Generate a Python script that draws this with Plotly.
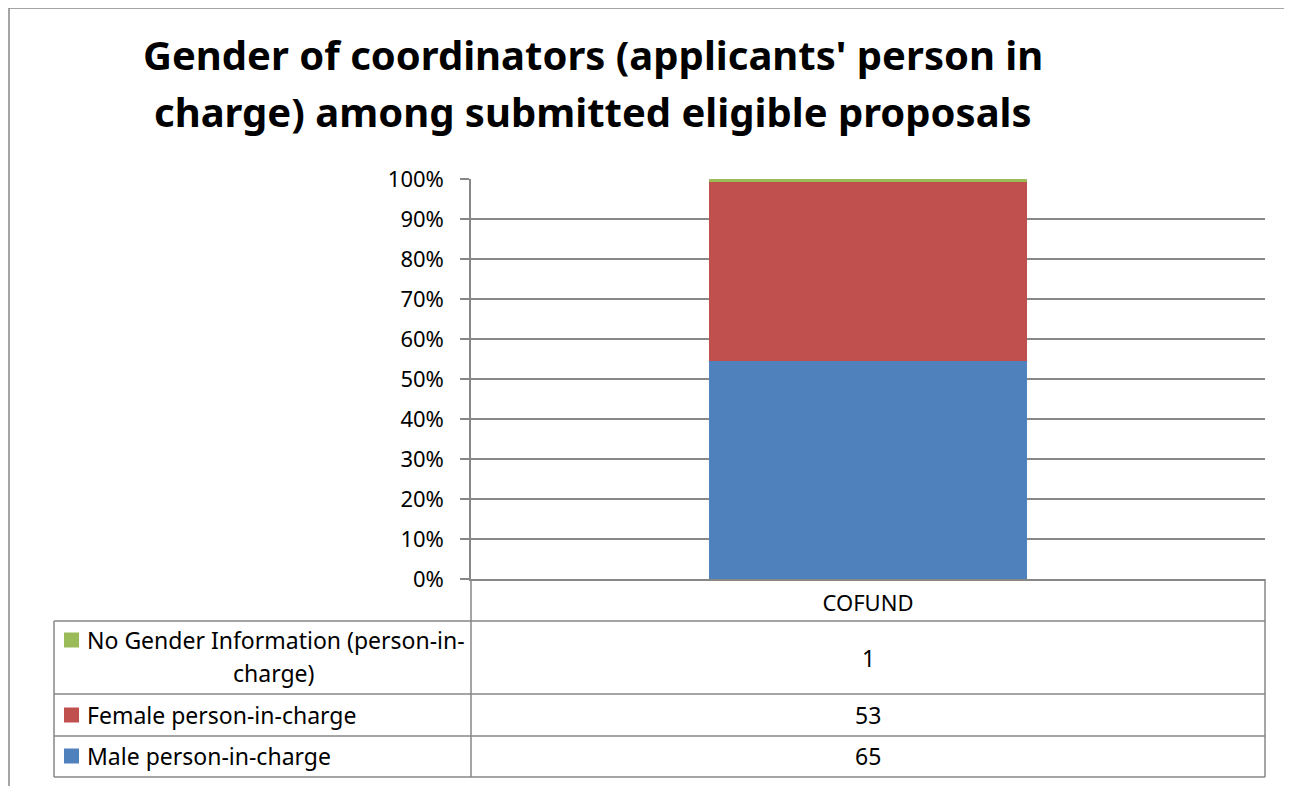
import plotly.graph_objects as go

# Data
categories = ["COFUND"]
male = [65]
female = [53]
no_info = [1]
series_names = ["Male person-in-charge", "Female person-in-charge",
                "No Gender Information (person-in-charge)"]
colors = ["#4F81BD", "#C0504D", "#9BBB59"]
y_ticks = [0, 10, 20, 30, 40, 50, 60, 70, 80, 90, 100]
y_tick_text = [f"{v}%" for v in y_ticks]
title_lines = ["Gender of coordinators (applicants' person in",
               "charge) among submitted eligible proposals"]

# the page body adds an 8px margin, so everything is placed 8px up/left
OFF = 8
W, H = 1292 - OFF, 786 - OFF
L, R, T, B = 471 - OFF, 1265 - OFF, 179 - OFF, 579 - OFF
FONT = "Noto Sans"
GRID = "#878787"


def px(x):
    return (x - OFF - L) / (R - L)


def py(y):
    return (B - (y - OFF)) / (B - T)


fig = go.Figure()
for name, vals, col in zip(series_names, [male, female, no_info], colors):
    fig.add_trace(go.Bar(x=categories, y=vals, name=name, marker_color=col,
                         marker_line_width=0))

fig.update_layout(
    width=W, height=H,
    margin=dict(l=L, r=W - R, t=T, b=H - B),
    barmode="stack", barnorm="percent", bargap=0.6,
    showlegend=False,
    plot_bgcolor="white", paper_bgcolor="white",
    font=dict(family=FONT, color="black"),
)
fig.update_yaxes(range=[0, 100], tickvals=y_ticks, ticktext=y_tick_text,
                 showgrid=True, gridcolor=GRID, gridwidth=1.5,
                 showline=True, linecolor=GRID, linewidth=1.5,
                 ticks="outside", ticklen=9, tickcolor=GRID, tickwidth=1.5,
                 tickfont=dict(size=22), ticklabelstandoff=12, zeroline=False)
fig.update_xaxes(showline=True, linecolor=GRID, linewidth=1.5,
                 tickfont=dict(size=22), ticklabelstandoff=4)

shapes = []


def line(x0, y0, x1, y1):
    shapes.append(dict(type="line", xref="paper", yref="paper",
                       x0=px(x0), y0=py(y0), x1=px(x1), y1=py(y1),
                       line=dict(color=GRID, width=1.5)))


# outer chart border
line(9, 8, 1300, 8)
line(9, 8, 9, 800)
# data table grid
for yy in [621, 694, 736, 777]:
    line(54, yy, 1265, yy)
line(54, 621, 54, 777)
line(471, 579, 471, 777)
line(1265, 579, 1265, 777)

# legend keys in the table
key_y = [640, 715, 756]
for col, ky in zip(colors[::-1], key_y):
    shapes.append(dict(type="rect", xref="paper", yref="paper",
                       x0=px(64), x1=px(79), y0=py(ky - 7.5), y1=py(ky + 7.5),
                       fillcolor=col, line_width=0))
fig.update_layout(shapes=shapes)

ann = []


def text(t, x, y, size=23, xanchor="center"):
    ann.append(dict(text=t, x=px(x), y=py(y), xref="paper", yref="paper",
                    showarrow=False, xanchor=xanchor, yanchor="middle",
                    font=dict(size=size)))


for i, t in enumerate(title_lines):
    text("<b>%s</b>" % t, 593, 55 + i * 56, size=40)

# row labels
text("No Gender Information (person-in-", 85, 640, xanchor="left")
text("charge)", 273, 673)
text(series_names[1], 85, 715, xanchor="left")
text(series_names[0], 85, 756, xanchor="left")
# values
for vals, vy in zip([no_info, female, male], [658, 715, 756]):
    text(str(vals[0]), 868, vy)
fig.update_layout(annotations=ann)

fig.write_html("out.html")
